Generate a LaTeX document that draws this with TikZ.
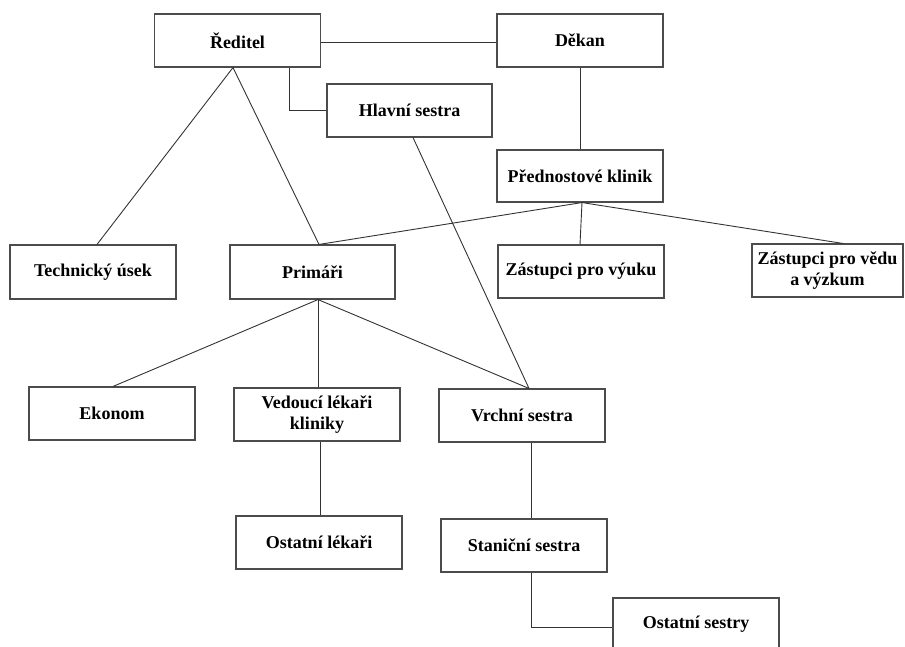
\documentclass[tikz,border=0pt]{standalone}
\usepackage{fontspec}
\setmainfont{Liberation Serif}
\usetikzlibrary{positioning,calc}
\tikzset{
  obox/.style ={draw=black!70, line width=1.1pt, fill=white, align=center,
                minimum width=166pt, minimum height=53pt, inner sep=2pt,
                font=\fontsize{18}{21}\selectfont\bfseries},
  ln/.style   ={draw=black!80, line width=0.9pt},
}
\begin{document}
\begin{tikzpicture}[x=1pt,y=-1pt]
\useasboundingbox (0,0) rectangle (905,646);
% top row
\node[obox] (red) at (237.5,40.5) {Ředitel};
\node[obox] (dek) at (580,40.5) {Děkan};
\node[obox, minimum width=165pt] (hs) at (409.5,110.5) {Hlavní sestra};
\node[obox, minimum height=52pt] (pk) at (580,176) {Přednostové klinik};
% second row
\node[obox, minimum height=54pt] (tu) at (93,272) {Technický úsek};
\node[obox, minimum width=165pt, minimum height=54pt] (pri) at (312.5,272) {Primáři};
\node[obox] (zv) at (581,271.5) {Zástupci pro výuku};
\node[obox, minimum width=151pt] (zvv) at (827.5,270.5) {Zástupci pro vědu\\a výzkum};
% third row
\node[obox] (ek) at (112,413.5) {Ekonom};
\node[obox] (vl) at (317,414.5) {Vedoucí lékaři\\kliniky};
\node[obox] (vs) at (522,415.5) {Vrchní sestra};
% bottom
\node[obox] (ol) at (319,542.5) {Ostatní lékaři};
\node[obox] (ss) at (524,545.5) {Staniční sestra};
\node[obox] (os) at (696,624.5) {Ostatní sestry};
% connectors
\draw[ln] (red.east |- 0,42) -- (dek.west |- 0,42);
\draw[ln] ([xshift=51.5pt]red.south) |- (hs.west);
\draw[ln] (dek.south) -- (pk.north);
\draw[ln] ([xshift=-4.5pt]red.south) -- ([xshift=4pt]tu.north);
\draw[ln] ([xshift=-4.5pt]red.south) -- ([xshift=6.5pt]pri.north);
\draw[ln] ([xshift=3.5pt]hs.south) -- ([xshift=7pt]vs.north);
\draw[ln] ([xshift=2pt]pk.south) -- ([xshift=6.5pt]pri.north);
\draw[ln] ([xshift=2pt]pk.south) -- ([xshift=-1pt]zv.north);
\draw[ln] ([xshift=2pt]pk.south) -- ([xshift=15.5pt]zvv.north);
\draw[ln] ([xshift=5.5pt]pri.south) -- ([xshift=1pt]ek.north);
\draw[ln] ([xshift=5.5pt]pri.south) -- ([xshift=1pt]vl.north);
\draw[ln] ([xshift=5.5pt]pri.south) -- ([xshift=7pt]vs.north);
\draw[ln] ([xshift=3pt]vl.south) -- ([xshift=1pt]ol.north);
\draw[ln] ([xshift=9pt]vs.south) -- ([xshift=7pt]ss.north);
\draw[ln] ([xshift=7pt]ss.south) |- ([yshift=-2.5pt]os.west);
\end{tikzpicture}
\end{document}
